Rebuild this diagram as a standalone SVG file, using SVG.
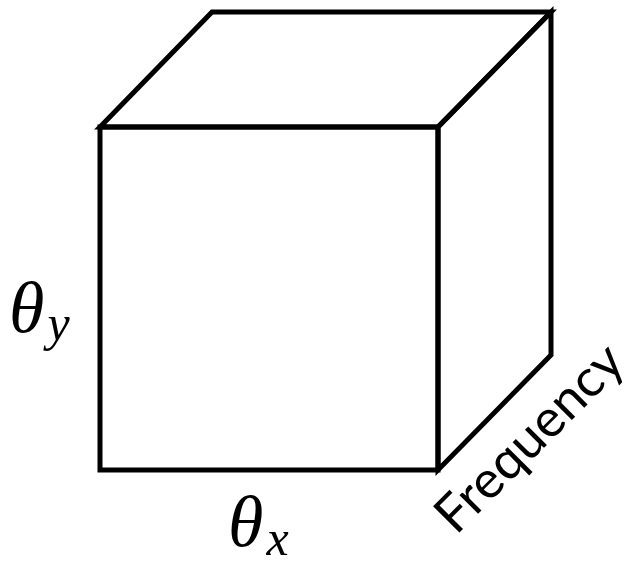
<svg xmlns="http://www.w3.org/2000/svg" width="636" height="567" viewBox="0 0 636 567">
<style>
.edge{fill:none;stroke:#000;stroke-width:5;stroke-linejoin:miter}
.math{font-family:"Liberation Serif","DejaVu Serif",serif;font-style:italic;fill:#000}
.lbl{font-family:"Lato","Open Sans","Liberation Sans",sans-serif;font-weight:400;fill:#000}
</style>
<rect width="636" height="567" fill="#fff"/>
<g id="cube">
<path class="edge" d="M100,127 L212,12 L551,12 L438,127 Z"/>
<path class="edge" d="M438,127 L551,12 L551,355 L438,470 Z"/>
<rect class="edge" x="100" y="127" width="338" height="343"/>
</g>
<g id="label-theta-y">
<text class="math" x="9" y="332" font-size="72">θ<tspan font-size="50" dx="3" dy="8">y</tspan></text>
</g>
<g id="label-theta-x">
<text class="math" x="228" y="546" font-size="72">θ<tspan font-size="50" dx="3" dy="9">x</tspan></text>
</g>
<g id="label-frequency">
<text class="lbl" x="0" y="0" font-size="52" textLength="242" lengthAdjust="spacingAndGlyphs" transform="translate(456,536) rotate(-45)">Frequency</text>
</g>
</svg>
